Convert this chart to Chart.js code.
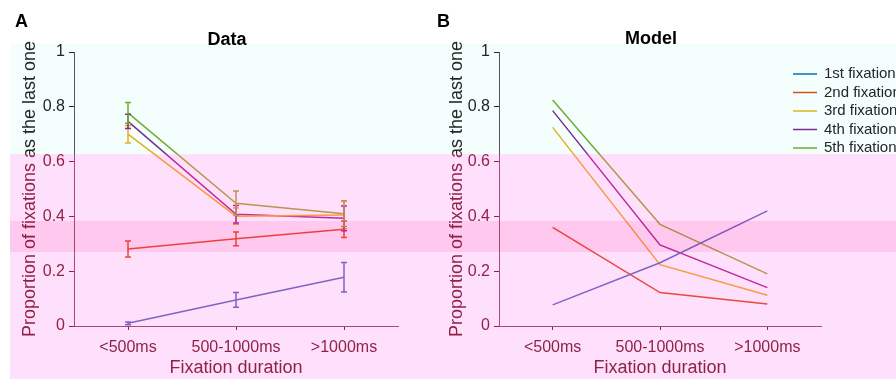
<!DOCTYPE html>
<html>
<head>
<meta charset="utf-8">
<script src="https://cdn.jsdelivr.net/npm/chart.js@4.4.0/dist/chart.umd.min.js"></script>
<style>
  body { margin: 0; background: #fff; font-family: 'Liberation Sans', Arial, sans-serif; }
  #wrap { position: relative; width: 896px; height: 379px; overflow: hidden; }
  .panel { position: absolute; top: 0; width: 448px; height: 379px; }
  .lbl { position: absolute; font-weight: bold; font-size: 18px; line-height: 20px; color: #000; }
</style>
</head>
<body>
<div id="wrap">
  <div class="panel" style="left:0"><canvas id="dataChart" width="448" height="379"></canvas></div>
  <div class="panel" style="left:448px"><canvas id="modelChart" width="448" height="379"></canvas></div>
  <div class="lbl" style="left:15px;top:11px">A</div>
  <div class="lbl" style="left:437px;top:11px">B</div>
  <div class="lbl" style="left:177px;top:29px;width:100px;text-align:center">Data</div>
  <div class="lbl" style="left:601px;top:28px;width:100px;text-align:center">Model</div>
</div>
<script>
// categorias e ticks
const categories = ['<500ms', '500-1000ms', '>1000ms'];
const yTicks = [0, 0.2, 0.4, 0.6, 0.8, 1];
const yTickLabels = ['0', '0.2', '0.4', '0.6', '0.8', '1'];
const seriesNames = ['1st fixation', '2nd fixation', '3rd fixation', '4th fixation', '5th fixation'];
const seriesColors = ['#0072BD', '#D95319', '#EDB120', '#7E2F8E', '#77AC30'];

// painel A (dados, com barras de erro)
const dataFirst  = [0.010, 0.095, 0.178];
const dataSecond = [0.281, 0.318, 0.353];
const dataThird  = [0.700, 0.401, 0.405];
const dataFourth = [0.747, 0.408, 0.393];
const dataFifth  = [0.778, 0.448, 0.410];
const errFirst  = [0.005, 0.027, 0.054];
const errSecond = [0.029, 0.025, 0.030];
const errThird  = [0.032, 0.030, 0.050];
const errFourth = [0.026, 0.032, 0.045];
const errFifth  = [0.038, 0.045, 0.047];

// painel B (modelo)
const modelFirst  = [0.077, 0.231, 0.420];
const modelSecond = [0.360, 0.122, 0.080];
const modelThird  = [0.725, 0.224, 0.112];
const modelFourth = [0.786, 0.296, 0.140];
const modelFifth  = [0.825, 0.371, 0.190];

const FONT = "'Liberation Sans', Arial, sans-serif";
const TEXT = '#262626';

// fundo branco + faixas coloridas por cima de tudo
const tintPlugin = {
  id: 'tint',
  beforeDraw(chart) {
    const c = chart.ctx;
    c.save();
    c.fillStyle = '#fff';
    c.fillRect(0, 0, chart.width, chart.height);
    c.restore();
  },
  afterDatasetsDraw(chart) {
    const c = chart.ctx;
    const y = chart.scales.y;
    // barras de erro
    chart.data.datasets.forEach((ds, di) => {
      if (!ds.err) return;
      const meta = chart.getDatasetMeta(di);
      c.save();
      c.strokeStyle = ds.borderColor;
      c.lineWidth = 1.5;
      meta.data.forEach((pt, i) => {
        const top = y.getPixelForValue(ds.data[i] + ds.err[i]);
        const bot = y.getPixelForValue(ds.data[i] - ds.err[i]);
        c.beginPath();
        c.moveTo(pt.x, top); c.lineTo(pt.x, bot);
        c.moveTo(pt.x - 3, top); c.lineTo(pt.x + 3, top);
        c.moveTo(pt.x - 3, bot); c.lineTo(pt.x + 3, bot);
        c.stroke();
      });
      c.restore();
    });
  },
  afterDraw(chart, args, opts) {
    const c = chart.ctx;
    const area = chart.chartArea;
    // titulo do eixo y (desenhado a mao para nao ser comprimido)
    c.save();
    c.translate(opts.titleX, (area.top + area.bottom) / 2);
    c.rotate(-Math.PI / 2);
    c.font = '18px ' + FONT;
    c.fillStyle = TEXT;
    c.textAlign = 'center';
    c.textBaseline = 'middle';
    c.fillText('Proportion of fixations as the last one', 0, 0);
    c.restore();

    // legenda (so no painel B)
    if (opts.legend) {
      c.save();
      c.font = '15px ' + FONT;
      c.textBaseline = 'middle';
      c.lineWidth = 1.5;
      chart.data.datasets.forEach((ds, i) => {
        const ly = 74 + i * 18.5;
        c.strokeStyle = ds.borderColor;
        c.beginPath(); c.moveTo(345, ly); c.lineTo(369, ly); c.stroke();
        c.fillStyle = TEXT;
        c.fillText(ds.label, 376, ly);
      });
      c.restore();
    }

    const x0 = Math.max(0, 10 - opts.offsetX);
    const w = chart.width - x0;
    const h = chart.height;
    c.save();
    c.globalCompositeOperation = 'multiply';
    c.fillStyle = 'rgb(244,255,253)';
    c.fillRect(x0, 44, w, 110);
    c.globalCompositeOperation = 'screen';
    c.fillStyle = 'rgb(125,0,40)';
    c.fillRect(x0, 154, w, h - 154);
    c.globalCompositeOperation = 'multiply';
    c.fillStyle = 'rgb(255,224,252)';
    c.fillRect(x0, 154, w, h - 154);
    c.fillStyle = 'rgb(255,228,242)';
    c.fillRect(x0, 221, w, 31);
    c.restore();
  }
};

function makeSets(values, errs) {
  return values.map((v, i) => ({
    label: seriesNames[i],
    data: v,
    err: errs ? errs[i] : null,
    borderColor: seriesColors[i],
    backgroundColor: seriesColors[i],
    borderWidth: 1.5,
    pointRadius: 0,
    tension: 0,
    fill: false
  }));
}

function makeChart(id, datasets, lay) {
  return new Chart(document.getElementById(id), {
    type: 'line',
    data: { labels: categories, datasets: datasets },
    options: {
      responsive: false,
      animation: false,
      devicePixelRatio: 1,
      layout: { padding: { left: lay.padLeft, right: lay.padRight, top: 52, bottom: 0 } },
      plugins: {
        legend: { display: false },
        tooltip: { enabled: false },
        tint: { offsetX: lay.offsetX, titleX: lay.titleX, legend: lay.legend }
      },
      scales: {
        x: {
          type: 'category',
          offset: true,
          afterFit: s => { s.height = 53; },
          grid: { drawOnChartArea: false, drawTicks: true, tickLength: 4, color: TEXT },
          border: { display: true, color: '#555', width: 1 },
          ticks: { font: { family: FONT, size: 16 }, color: TEXT, padding: 8, maxRotation: 0, autoSkip: false },
          title: { display: true, text: 'Fixation duration', color: TEXT,
                   font: { family: FONT, size: 18 }, padding: { top: 0, bottom: 0 } }
        },
        y: {
          min: 0,
          max: 1,
          afterBuildTicks: s => { s.ticks = yTicks.map(v => ({ value: v })); },
          afterFit: s => { s.width = lay.yWidth; },
          grid: { drawOnChartArea: false, drawTicks: true, tickLength: 5, color: TEXT },
          border: { display: true, color: '#555', width: 1 },
          ticks: { font: { family: FONT, size: 16 }, color: TEXT, padding: 4,
                   callback: v => yTickLabels[yTicks.indexOf(v)] }
        }
      }
    },
    plugins: [tintPlugin]
  });
}

makeChart('dataChart',
  makeSets([dataFirst, dataSecond, dataThird, dataFourth, dataFifth],
           [errFirst, errSecond, errThird, errFourth, errFifth]),
  { padLeft: 18, padRight: 50, yWidth: 56, offsetX: 0, titleX: 30, legend: false });

makeChart('modelChart',
  makeSets([modelFirst, modelSecond, modelThird, modelFourth, modelFifth], null),
  { padLeft: 0, padRight: 75, yWidth: 51, offsetX: 448, titleX: 9, legend: true });
</script>
</body>
</html>
